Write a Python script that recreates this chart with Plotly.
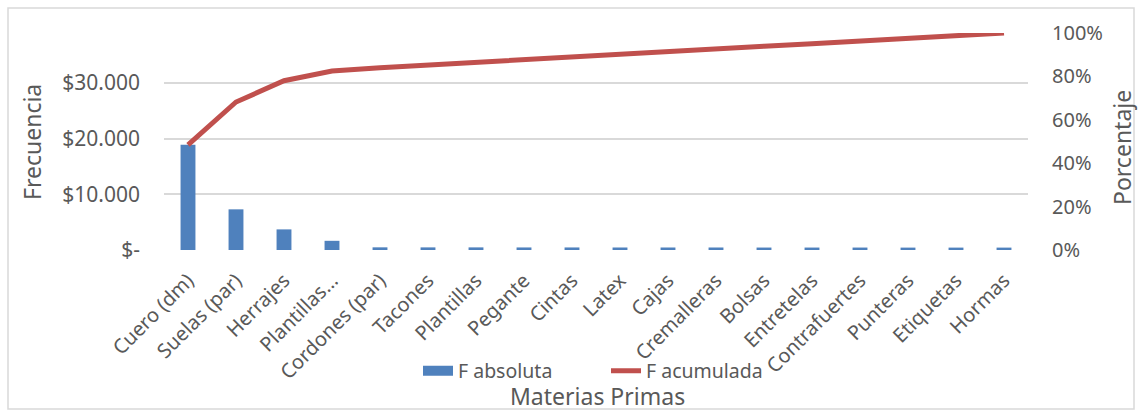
import plotly.graph_objects as go

categories = ["Cuero (dm)", "Suelas (par)", "Herrajes", "Plantillas…", "Cordones (par)",
              "Tacones", "Plantillas", "Pegante", "Cintas", "Latex", "Cajas",
              "Cremalleras", "Bolsas", "Entretelas", "Contrafuertes", "Punteras",
              "Etiquetas", "Hormas"]
f_absoluta = [18900, 7300, 3700, 1650, 480, 470, 470, 460, 460, 450, 450,
              450, 440, 440, 440, 430, 430, 430]
f_acumulada = [0.484, 0.682, 0.780, 0.825, 0.840, 0.853, 0.866, 0.879, 0.891,
               0.903, 0.915, 0.927, 0.939, 0.951, 0.963, 0.976, 0.988, 1.0]
left_ticks = [0, 10000, 20000, 30000]
left_ticktext = ["$-", "$10.000", "$20.000", "$30.000"]
right_ticks = [0, 0.2, 0.4, 0.6, 0.8, 1.0]
right_ticktext = ["0%", "20%", "40%", "60%", "80%", "100%"]

FONT = "Noto Sans"
GRAY = "#595959"
BLUE = "#4F81BD"
RED = "#C0504D"

fig = go.Figure()
fig.add_trace(go.Bar(x=categories, y=f_absoluta, name="F absoluta", showlegend=False,
                     marker=dict(color=BLUE, line=dict(width=0)), width=0.31))
# legend-only entry so the key shows a wide blue block like the reference
fig.add_trace(go.Scatter(x=[None], y=[None], name="F absoluta", mode="lines",
                         line=dict(color=BLUE, width=13)))
fig.add_trace(go.Scatter(x=categories, y=f_acumulada, name="F acumulada", yaxis="y2",
                         mode="lines", line=dict(color=RED, width=5)))

fig.update_layout(
    template="none",
    width=1140, height=411,
    margin=dict(l=164, r=112, t=33, b=161),
    paper_bgcolor="white", plot_bgcolor="white",
    font=dict(family=FONT, color=GRAY),
    xaxis=dict(tickangle=-45, tickfont=dict(size=20, color=GRAY), showgrid=False,
               showline=False, ticks="", automargin=False, ticklabelstandoff=14,
               range=[-0.5, 17.5]),
    yaxis=dict(range=[0, 38960], tickvals=left_ticks, ticktext=left_ticktext,
               tickfont=dict(size=21, color=GRAY), showgrid=True, gridcolor="#D9D9D9",
               gridwidth=1.5, zeroline=False, showline=False, ticks="",
               automargin=False, ticklabelstandoff=23),
    yaxis2=dict(range=[0, 1], overlaying="y", side="right", tickvals=right_ticks,
                ticktext=right_ticktext, tickfont=dict(size=20, color=GRAY),
                showgrid=False, zeroline=False, showline=False, ticks="",
                automargin=False, ticklabelstandoff=23),
    legend=dict(orientation="h", x=(418 - 164) / 864, y=(250 - 371) / 217,
                xanchor="left", yanchor="middle", entrywidth=143, entrywidthmode="pixels",
                font=dict(size=19.5, color=GRAY), bgcolor="rgba(0,0,0,0)"),
    showlegend=True,
)

fig.add_annotation(text="Frecuencia", xref="paper", yref="paper",
                   x=(32 - 164) / 864, y=(250 - 142) / 217,
                   xanchor="center", yanchor="middle",
                   textangle=-90, showarrow=False, font=dict(size=23, color=GRAY))
fig.add_annotation(text="Porcentaje", xref="paper", yref="paper",
                   x=(1122 - 164) / 864, y=(250 - 148) / 217,
                   xanchor="center", yanchor="middle",
                   textangle=-90, showarrow=False, font=dict(size=23, color=GRAY))
fig.add_annotation(text="Materias Primas", xref="paper", yref="paper",
                   x=(597 - 164) / 864, y=(250 - 396) / 217,
                   xanchor="center", yanchor="middle",
                   showarrow=False, font=dict(size=23, color=GRAY))

fig.add_shape(type="rect", xref="paper", yref="paper",
              x0=(8 - 164) / 864, x1=(1134 - 164) / 864,
              y0=(250 - 409) / 217, y1=(250 - 8) / 217,
              line=dict(color="#D9D9D9", width=1.5), fillcolor="rgba(0,0,0,0)", layer="below")

fig.write_html("out.html")
